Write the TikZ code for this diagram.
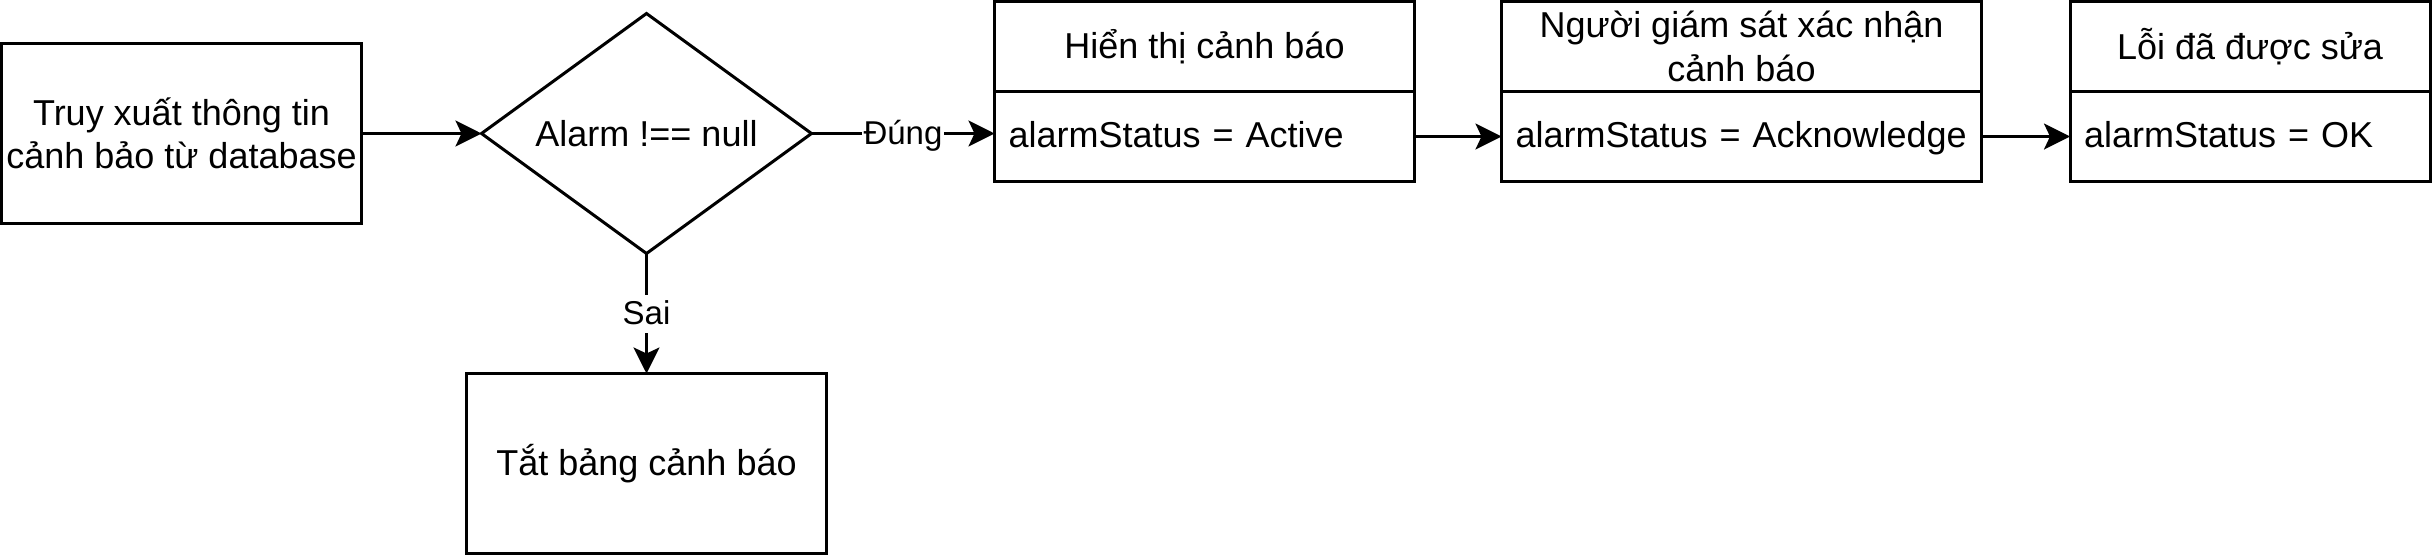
\documentclass[tikz,border=0pt]{standalone}
\usepackage{fontspec}
\setmainfont{Liberation Sans}
\usepackage{tikz}
\usetikzlibrary{positioning,shapes.geometric,arrows.meta}

\tikzset{
  box/.style={draw, rectangle, align=center, inner sep=0pt, outer sep=0pt, minimum width=180pt, minimum height=90pt},
  decision/.style={draw, diamond, shape aspect=1.375, inner sep=0pt, outer sep=0pt, minimum width=165pt, minimum height=120pt},
  head/.style={draw, rectangle, align=center, inner sep=0pt, outer sep=0pt, minimum height=45pt},
  field/.style={draw, rectangle, align=left, inner xsep=7pt, inner ysep=0pt, outer sep=0pt, minimum height=45pt, text height=14pt, text depth=3.5pt},
  elabel/.style={fill=white, inner sep=1pt, text height=14pt, text depth=3pt, font=\fontsize{16.5}{19.8}\selectfont},
}

\begin{document}
\begin{tikzpicture}[x=1.5pt, y=-1.5pt, line width=1.5pt, font=\fontsize{18}{21.6}\selectfont,
  >={Stealth[length=13pt, width=13pt, inset=3pt]}]
\useasboundingbox (0,0) rectangle (812,186);

\node [box] (fetch) at (60.5,44.5) {Truy xuất thông tin\\cảnh bảo từ database};
\node [decision] (check) at (215.5,44.5) {Alarm !== null};
\node [box] (off) at (215.5,154.5) {Tắt bảng cảnh báo};

\node [head, minimum width=210pt] (show) at (401.5,15.5) {Hiển thị cảnh báo};
\node [field, text width=196pt, below=0pt of show] (showst) {alarmStatus = Active};

\node [head, minimum width=240pt] (ack) at (580.5,15.5) {Người giám sát xác nhận\\cảnh báo};
\node [field, text width=226pt, below=0pt of ack] (ackst) {alarmStatus = Acknowledge};

\node [head, minimum width=180pt] (fixed) at (750,15.5) {Lỗi đã được sửa};
\node [field, text width=166pt, below=0pt of fixed] (fixedst) {alarmStatus = OK};

\draw [->] (fetch) -- (check);
\draw [->] (check.east) -- (check.east -| showst.west) node [elabel, midway] {Đúng};
\draw [->] (check) -- (off) node [elabel, midway] {Sai};
\draw [->] (showst) -- (ackst);
\draw [->] (ackst) -- (fixedst);

\end{tikzpicture}
\end{document}
